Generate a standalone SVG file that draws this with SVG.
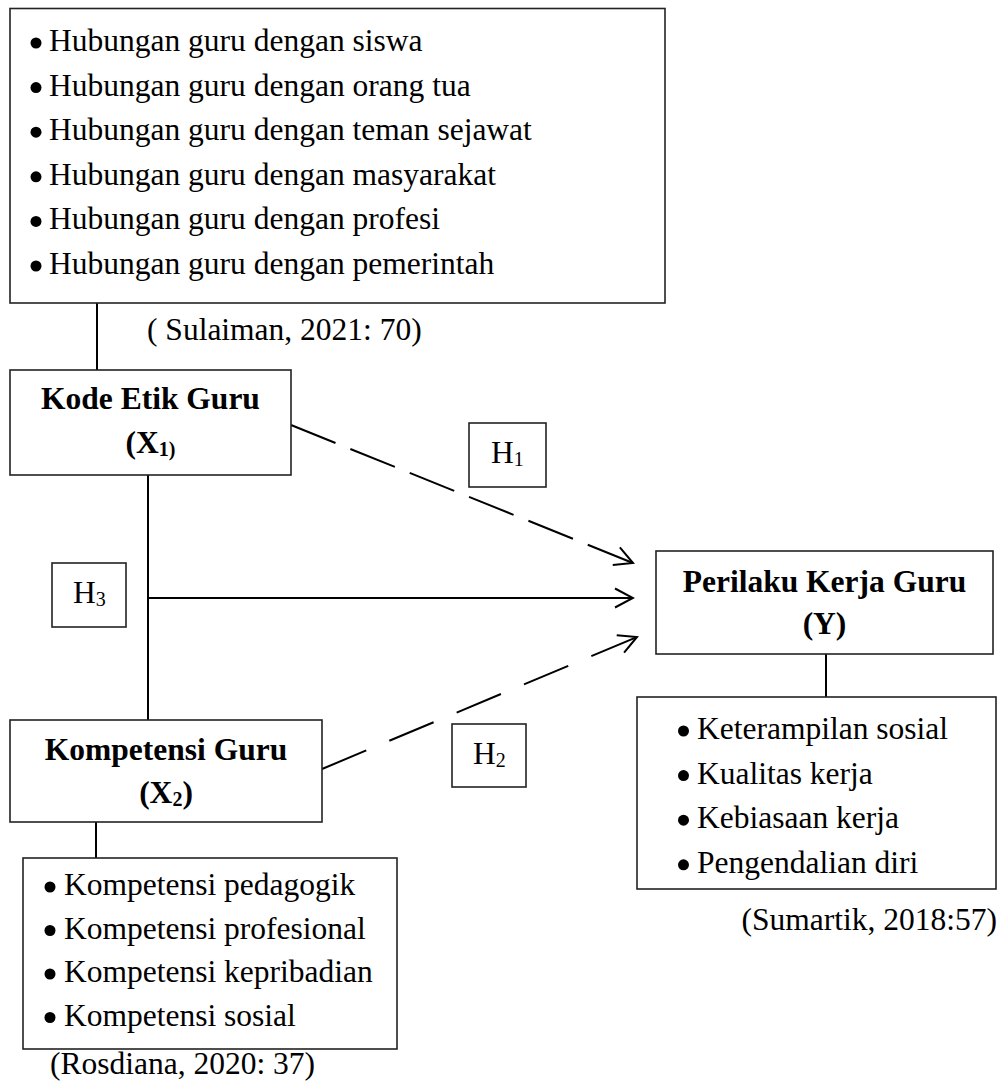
<svg xmlns="http://www.w3.org/2000/svg" width="1004" height="1083" viewBox="0 0 1004 1083">
<style>
text{font-family:"Liberation Serif","Times New Roman",serif;font-size:31.5px;fill:#000}
.b{font-weight:bold}
.box{fill:#fff;stroke:#222;stroke-width:1.6}
.ln{fill:none;stroke:#000;stroke-width:2}
.dash1{stroke-dasharray:48 16}
.dash2{stroke-dasharray:48 25}
.dot{fill:#000}
.sub{font-size:20px}
</style>
<defs>
<marker id="arr" markerUnits="userSpaceOnUse" viewBox="-20 -11 22 22" refX="0" refY="0" markerWidth="22" markerHeight="22" orient="auto">
<path d="M-18,-9.5 L0,0 L-18,9.5" fill="none" stroke="#000" stroke-width="2" stroke-dasharray="none"/>
</marker>
</defs>
<rect width="1004" height="1083" fill="#fff"/>

<g id="connectors">
<line class="ln" x1="97" y1="303" x2="97" y2="370"/>
<line class="ln" x1="148" y1="475" x2="148" y2="720"/>
<line class="ln" x1="148" y1="598" x2="633" y2="598" marker-end="url(#arr)"/>
<line class="ln dash1" x1="291" y1="425" x2="633" y2="563" marker-end="url(#arr)"/>
<line class="ln dash2" x1="322" y1="769" x2="637" y2="637" marker-end="url(#arr)"/>
<line class="ln" x1="826" y1="654" x2="826" y2="697"/>
<line class="ln" x1="96" y1="822" x2="96" y2="858"/>
</g>

<g id="x1-indicators">
<rect class="box" x="10" y="8.5" width="655" height="294.5"/>
<circle class="dot" cx="36" cy="43" r="5.5"/>
<circle class="dot" cx="36" cy="87.6" r="5.5"/>
<circle class="dot" cx="36" cy="132.2" r="5.5"/>
<circle class="dot" cx="36" cy="176.8" r="5.5"/>
<circle class="dot" cx="36" cy="221.4" r="5.5"/>
<circle class="dot" cx="36" cy="266" r="5.5"/>
<text x="49" y="51">Hubungan guru dengan siswa</text>
<text x="49" y="95.6">Hubungan guru dengan orang tua</text>
<text x="49" y="140.2">Hubungan guru dengan teman sejawat</text>
<text x="49" y="184.8">Hubungan guru dengan masyarakat</text>
<text x="49" y="229.4">Hubungan guru dengan profesi</text>
<text x="49" y="274">Hubungan guru dengan pemerintah</text>
</g>

<g id="src-sulaiman">
<text x="147" y="340">( Sulaiman, 2021: 70)</text>
</g>

<g id="x1">
<rect class="box" x="10" y="370" width="281" height="105"/>
<text class="b" x="150.5" y="409" text-anchor="middle">Kode Etik Guru</text>
<text class="b" x="150.5" y="453" text-anchor="middle">(X<tspan class="sub" dy="3">1)</tspan></text>
</g>

<g id="h1">
<rect class="box" x="469" y="423" width="77" height="64"/>
<text x="491" y="463">H<tspan class="sub" dy="3">1</tspan></text>
</g>

<g id="h3">
<rect class="box" x="52" y="563" width="74" height="64"/>
<text x="73" y="603">H<tspan class="sub" dy="3">3</tspan></text>
</g>

<g id="h2">
<rect class="box" x="452" y="724" width="74" height="63"/>
<text x="473" y="764">H<tspan class="sub" dy="3">2</tspan></text>
</g>

<g id="y">
<rect class="box" x="656" y="551" width="337" height="103"/>
<text class="b" x="824.5" y="592" text-anchor="middle">Perilaku Kerja Guru</text>
<text class="b" x="824.5" y="634" text-anchor="middle">(Y)</text>
</g>

<g id="y-indicators">
<rect class="box" x="637" y="697" width="359" height="192"/>
<circle class="dot" cx="683.5" cy="731" r="5.5"/>
<circle class="dot" cx="683.5" cy="775.6" r="5.5"/>
<circle class="dot" cx="683.5" cy="820.2" r="5.5"/>
<circle class="dot" cx="683.5" cy="864.8" r="5.5"/>
<text x="697" y="739">Keterampilan sosial</text>
<text x="697" y="783.6">Kualitas kerja</text>
<text x="697" y="828.2">Kebiasaan kerja</text>
<text x="697" y="872.8">Pengendalian diri</text>
</g>

<g id="src-sumartik">
<text x="997" y="930" text-anchor="end">(Sumartik, 2018:57)</text>
</g>

<g id="x2">
<rect class="box" x="10" y="720" width="312" height="102"/>
<text class="b" x="166" y="760" text-anchor="middle">Kompetensi Guru</text>
<text class="b" x="166" y="803" text-anchor="middle">(X<tspan class="sub" dy="3">2</tspan><tspan dy="-3">)</tspan></text>
</g>

<g id="x2-indicators">
<rect class="box" x="23" y="858" width="374" height="191"/>
<circle class="dot" cx="50" cy="887" r="5.5"/>
<circle class="dot" cx="50" cy="930.5" r="5.5"/>
<circle class="dot" cx="50" cy="974" r="5.5"/>
<circle class="dot" cx="50" cy="1017.5" r="5.5"/>
<text x="64" y="895">Kompetensi pedagogik</text>
<text x="64" y="938.5">Kompetensi profesional</text>
<text x="64" y="982">Kompetensi kepribadian</text>
<text x="64" y="1025.5">Kompetensi sosial</text>
</g>

<g id="src-rosdiana">
<text x="50" y="1074">(Rosdiana, 2020: 37)</text>
</g>
</svg>
